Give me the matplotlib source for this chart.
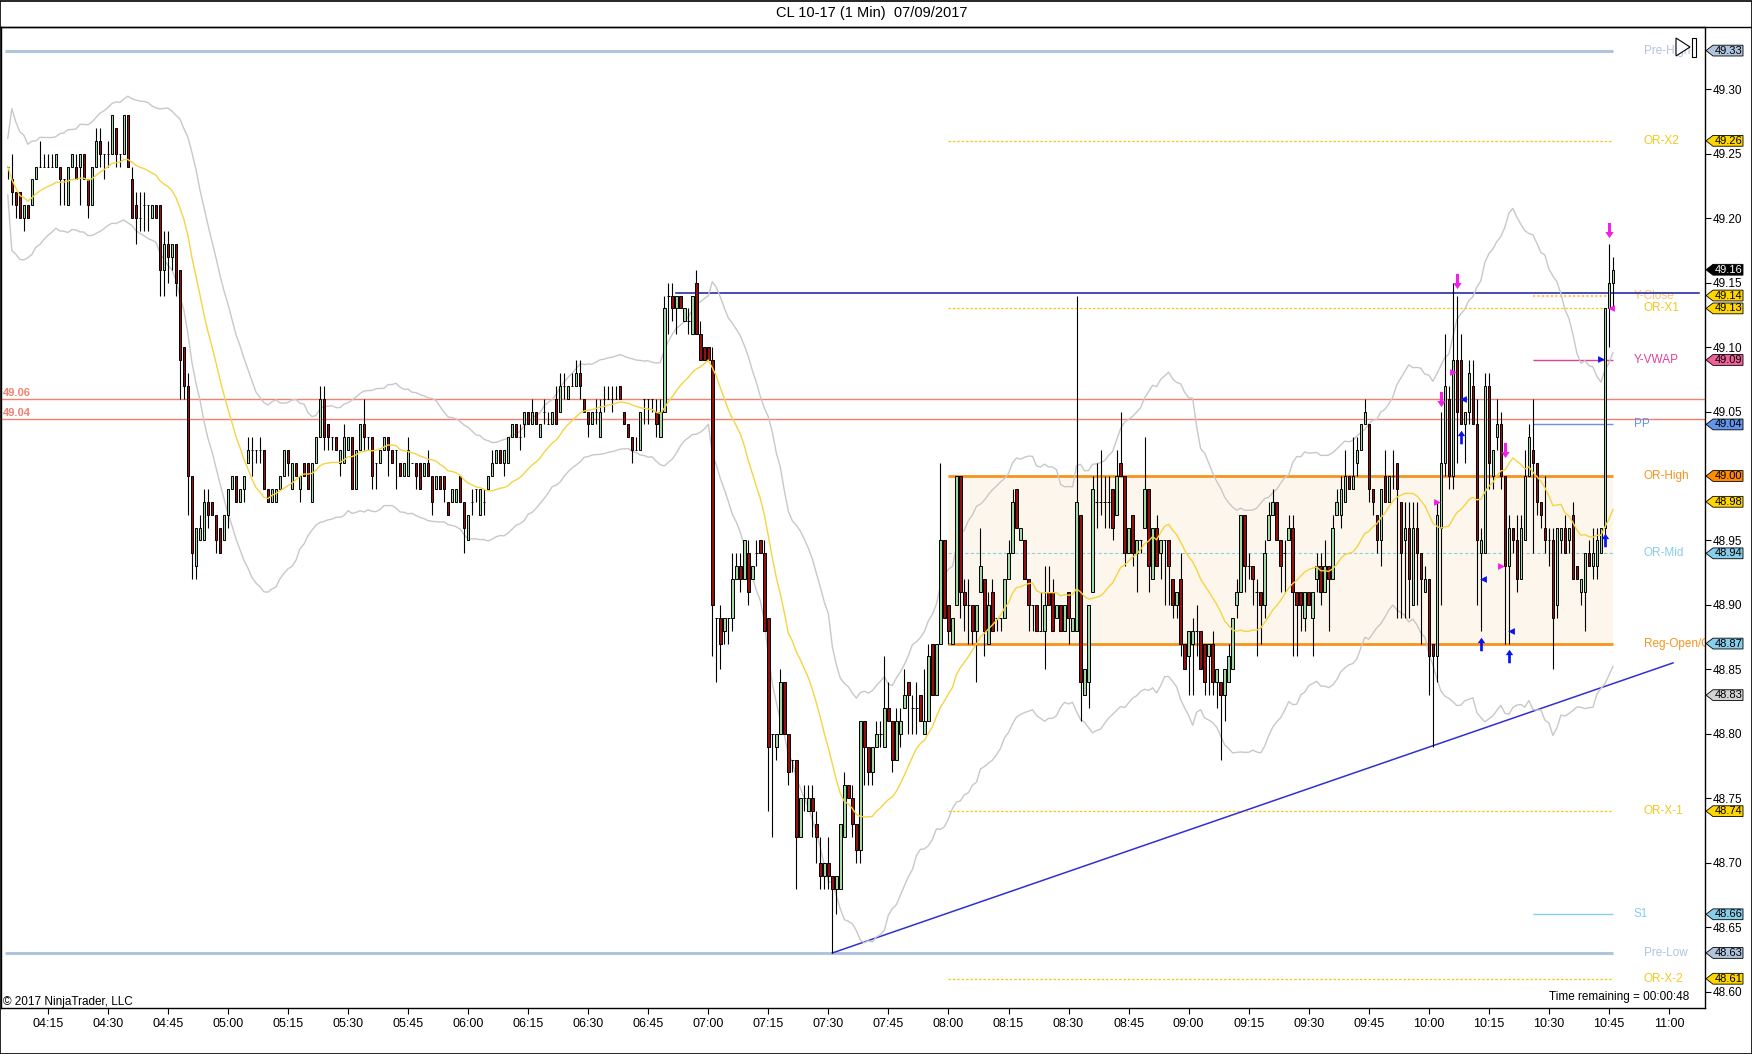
import numpy as np
import pandas as pd
import matplotlib
matplotlib.use('Agg')
import matplotlib.pyplot as plt
import matplotlib.transforms as mtransforms
from matplotlib.path import Path
from matplotlib.patches import Polygon, Rectangle
from matplotlib.lines import Line2D

plt.rcParams['font.family'] = ['Liberation Sans', 'DejaVu Sans']
NARROW = ['Liberation Sans Narrow', 'Liberation Sans', 'DejaVu Sans']

title = 'CL 10-17 (1 Min)  07/09/2017'
first_bar = '04:05'

# 1 minute bars, prices in cents (48.xx / 49.xx)
open_c = [
    4924, 4923, 4922, 4922, 4920, 4921, 4921, 4923, 4924, 4924,
    4924, 4924, 4924, 4924, 4923, 4921, 4924, 4924, 4924, 4925,
    4923, 4921, 4924, 4926, 4925, 4925, 4925, 4927, 4925, 4925,
    4928, 4923, 4921, 4920, 4921, 4921, 4920, 4921, 4921, 4916,
    4918, 4917, 4918, 4916, 4910, 4907, 4900, 4893, 4895, 4895,
    4898, 4898, 4897, 4896, 4895, 4897, 4899, 4900, 4898, 4899,
    4901, 4902, 4902, 4902, 4902, 4899, 4898, 4898, 4899, 4900,
    4902, 4899, 4901, 4899, 4901, 4901, 4898, 4901, 4903, 4906,
    4904, 4903, 4903, 4901, 4901, 4902, 4903, 4899, 4902, 4904,
    4903, 4903, 4901, 4901, 4902, 4903, 4902, 4902, 4901, 4900,
    4900, 4901, 4901, 4901, 4900, 4901, 4900, 4899, 4900, 4900,
    4898, 4898, 4898, 4900, 4898, 4895, 4898, 4899, 4897, 4898,
    4899, 4900, 4901, 4902, 4901, 4901, 4903, 4904, 4903, 4904,
    4905, 4904, 4905, 4903, 4905, 4904, 4904, 4906, 4905, 4907,
    4906, 4907, 4907, 4908, 4906, 4905, 4904, 4905, 4903, 4906,
    4906, 4906, 4906, 4907, 4905, 4904, 4903, 4902, 4902, 4906,
    4906, 4906, 4905, 4903, 4905, 4914, 4914, 4913, 4914, 4912,
    4912, 4911, 4915, 4911, 4910, 4910, 4909, 4889, 4889, 4888,
    4889, 4889, 4892, 4893, 4892, 4894, 4892, 4894, 4895, 4894,
    4889, 4880, 4879, 4880, 4884, 4880, 4878, 4878, 4872, 4875,
    4874, 4875, 4873, 4870, 4869, 4870, 4869, 4868, 4868, 4872,
    4876, 4875, 4873, 4871, 4881, 4879, 4877, 4879, 4880, 4879,
    4882, 4881, 4878, 4880, 4882, 4884, 4882, 4882, 4883, 4880,
    4881, 4887, 4883, 4887, 4895, 4890, 4887, 4890, 4900, 4891,
    4890, 4890, 4888, 4891, 4892, 4887, 4891, 4889, 4889, 4889,
    4892, 4894, 4899, 4895, 4895, 4892, 4890, 4890, 4888, 4888,
    4891, 4891, 4889, 4890, 4888, 4891, 4888, 4888, 4897, 4883,
    4884, 4891, 4898, 4898, 4898, 4898, 4899, 4897, 4901, 4900,
    4894, 4897, 4894, 4895, 4896, 4899, 4892, 4896, 4894, 4895,
    4895, 4892, 4890, 4892, 4887, 4886, 4887, 4888, 4888, 4887,
    4886, 4887, 4884, 4884, 4883, 4884, 4885, 4890, 4891, 4897,
    4893, 4893, 4891, 4891, 4890, 4895, 4897, 4898, 4895, 4894,
    4895, 4896, 4891, 4891, 4889, 4891, 4889, 4892, 4893, 4891,
    4893, 4892, 4897, 4897, 4898, 4900, 4899, 4901, 4902, 4904,
    4904, 4899, 4897, 4895, 4900, 4898, 4900, 4901, 4898, 4895,
    4896, 4890, 4896, 4894, 4891, 4892, 4887, 4886, 4896, 4901,
    4906, 4900, 4909, 4909, 4904, 4905, 4907, 4904, 4894, 4894,
    4907, 4900, 4903, 4904, 4900, 4893, 4896, 4895, 4892, 4895,
    4900, 4902, 4901, 4898, 4896, 4895, 4895, 4890, 4895, 4896,
    4895, 4897, 4893, 4891, 4891, 4894, 4893, 4893, 4894, 4896,
    4913, 4915,
]
high_c = [
    4924, 4925, 4922, 4922, 4921, 4921, 4923, 4924, 4926, 4925,
    4925, 4925, 4925, 4924, 4923, 4924, 4925, 4925, 4925, 4925,
    4923, 4924, 4927, 4927, 4925, 4926, 4928, 4927, 4925, 4928,
    4928, 4924, 4922, 4922, 4922, 4921, 4921, 4921, 4921, 4919,
    4919, 4918, 4918, 4916, 4910, 4908, 4900, 4896, 4897, 4899,
    4899, 4898, 4897, 4896, 4897, 4899, 4900, 4900, 4899, 4900,
    4903, 4903, 4902, 4903, 4902, 4899, 4899, 4899, 4900, 4902,
    4902, 4901, 4901, 4900, 4901, 4901, 4901, 4903, 4907, 4907,
    4904, 4903, 4903, 4902, 4904, 4903, 4903, 4902, 4904, 4906,
    4903, 4903, 4901, 4902, 4903, 4903, 4902, 4902, 4901, 4901,
    4903, 4901, 4901, 4901, 4901, 4902, 4900, 4900, 4900, 4900,
    4898, 4899, 4899, 4900, 4898, 4897, 4899, 4899, 4899, 4899,
    4900, 4902, 4902, 4902, 4902, 4903, 4904, 4904, 4904, 4905,
    4905, 4906, 4905, 4904, 4906, 4905, 4905, 4907, 4908, 4908,
    4907, 4908, 4909, 4909, 4906, 4905, 4905, 4906, 4906, 4907,
    4907, 4907, 4907, 4907, 4905, 4904, 4903, 4903, 4905, 4906,
    4906, 4906, 4906, 4906, 4914, 4915, 4915, 4914, 4914, 4913,
    4913, 4914, 4916, 4912, 4910, 4910, 4910, 4889, 4890, 4889,
    4889, 4894, 4894, 4894, 4895, 4895, 4893, 4895, 4895, 4895,
    4889, 4880, 4880, 4885, 4884, 4880, 4878, 4878, 4875, 4876,
    4876, 4876, 4874, 4872, 4870, 4872, 4869, 4869, 4873, 4877,
    4876, 4876, 4873, 4881, 4881, 4879, 4879, 4881, 4881, 4886,
    4884, 4881, 4882, 4882, 4885, 4884, 4883, 4884, 4883, 4885,
    4887, 4887, 4887, 4901, 4895, 4890, 4889, 4900, 4900, 4892,
    4892, 4890, 4890, 4896, 4892, 4891, 4892, 4889, 4889, 4892,
    4895, 4899, 4899, 4896, 4895, 4892, 4890, 4890, 4891, 4893,
    4893, 4892, 4890, 4890, 4890, 4891, 4889, 4914, 4897, 4885,
    4890, 4900, 4901, 4902, 4900, 4900, 4899, 4902, 4905, 4900,
    4896, 4897, 4895, 4895, 4903, 4899, 4896, 4897, 4895, 4895,
    4895, 4892, 4891, 4894, 4887, 4888, 4889, 4890, 4888, 4887,
    4887, 4888, 4885, 4884, 4885, 4887, 4889, 4892, 4897, 4897,
    4894, 4893, 4892, 4891, 4895, 4898, 4899, 4898, 4895, 4895,
    4897, 4897, 4891, 4891, 4891, 4891, 4891, 4894, 4894, 4895,
    4893, 4897, 4899, 4900, 4902, 4900, 4903, 4903, 4904, 4906,
    4904, 4899, 4897, 4899, 4902, 4900, 4902, 4901, 4898, 4898,
    4898, 4898, 4898, 4894, 4893, 4892, 4887, 4898, 4905, 4911,
    4907, 4915, 4914, 4911, 4905, 4909, 4909, 4906, 4896, 4908,
    4908, 4902, 4906, 4905, 4900, 4897, 4896, 4897, 4897, 4902,
    4904, 4906, 4901, 4898, 4900, 4896, 4896, 4896, 4896, 4897,
    4896, 4898, 4893, 4892, 4894, 4895, 4896, 4896, 4896, 4913,
    4918, 4917,
]
low_c = [
    4923, 4921, 4920, 4920, 4919, 4920, 4921, 4923, 4924, 4924,
    4924, 4924, 4924, 4921, 4921, 4921, 4924, 4923, 4921, 4923,
    4920, 4921, 4924, 4924, 4923, 4924, 4925, 4924, 4924, 4925,
    4924, 4920, 4918, 4919, 4919, 4919, 4920, 4920, 4914, 4914,
    4915, 4916, 4914, 4906, 4906, 4897, 4892, 4892, 4895, 4895,
    4896, 4897, 4894, 4894, 4895, 4896, 4899, 4898, 4898, 4898,
    4901, 4900, 4901, 4901, 4899, 4898, 4898, 4898, 4899, 4900,
    4900, 4899, 4900, 4898, 4900, 4899, 4898, 4901, 4903, 4902,
    4902, 4902, 4902, 4900, 4901, 4902, 4899, 4899, 4902, 4902,
    4902, 4899, 4899, 4901, 4902, 4900, 4901, 4899, 4900, 4900,
    4900, 4901, 4899, 4899, 4900, 4900, 4897, 4899, 4899, 4898,
    4897, 4898, 4898, 4898, 4894, 4895, 4897, 4898, 4897, 4897,
    4899, 4900, 4901, 4901, 4900, 4901, 4903, 4903, 4902, 4903,
    4904, 4904, 4904, 4903, 4904, 4904, 4904, 4904, 4905, 4906,
    4906, 4907, 4907, 4906, 4905, 4903, 4904, 4904, 4903, 4905,
    4906, 4905, 4906, 4906, 4904, 4903, 4901, 4902, 4902, 4904,
    4904, 4905, 4903, 4903, 4905, 4911, 4912, 4911, 4913, 4912,
    4911, 4911, 4911, 4909, 4909, 4909, 4886, 4884, 4885, 4887,
    4887, 4888, 4892, 4891, 4892, 4890, 4892, 4893, 4894, 4888,
    4874, 4872, 4878, 4880, 4880, 4876, 4877, 4868, 4872, 4874,
    4874, 4872, 4870, 4868, 4868, 4868, 4863, 4866, 4868, 4872,
    4875, 4872, 4870, 4870, 4876, 4876, 4876, 4879, 4879, 4879,
    4881, 4877, 4878, 4879, 4882, 4880, 4880, 4880, 4881, 4880,
    4881, 4883, 4883, 4887, 4889, 4887, 4887, 4890, 4889, 4888,
    4887, 4887, 4884, 4891, 4886, 4887, 4888, 4888, 4888, 4889,
    4892, 4894, 4896, 4895, 4892, 4888, 4888, 4888, 4888, 4885,
    4890, 4888, 4889, 4888, 4888, 4887, 4888, 4888, 4881, 4883,
    4882, 4891, 4896, 4897, 4896, 4896, 4895, 4897, 4900, 4893,
    4894, 4893, 4891, 4894, 4896, 4891, 4892, 4893, 4892, 4890,
    4890, 4889, 4889, 4886, 4885, 4883, 4883, 4886, 4885, 4883,
    4883, 4883, 4882, 4878, 4881, 4884, 4885, 4889, 4891, 4891,
    4892, 4890, 4886, 4887, 4889, 4895, 4897, 4895, 4891, 4891,
    4895, 4886, 4886, 4888, 4888, 4890, 4886, 4891, 4890, 4891,
    4888, 4892, 4897, 4896, 4898, 4899, 4899, 4900, 4902, 4904,
    4898, 4897, 4894, 4893, 4898, 4898, 4899, 4889, 4889, 4889,
    4889, 4890, 4890, 4887, 4891, 4883, 4879, 4884, 4890, 4900,
    4899, 4899, 4901, 4904, 4901, 4904, 4904, 4890, 4888, 4894,
    4899, 4899, 4902, 4899, 4887, 4887, 4894, 4891, 4892, 4895,
    4900, 4894, 4897, 4896, 4894, 4893, 4885, 4889, 4894, 4894,
    4894, 4892, 4892, 4890, 4888, 4893, 4892, 4892, 4894, 4895,
    4910, 4913,
]
close_c = [
    4924, 4922, 4921, 4920, 4921, 4920, 4923, 4924, 4924, 4924,
    4924, 4924, 4925, 4923, 4923, 4924, 4925, 4923, 4925, 4923,
    4921, 4924, 4926, 4925, 4925, 4925, 4928, 4925, 4925, 4928,
    4924, 4920, 4920, 4920, 4921, 4921, 4921, 4920, 4916, 4918,
    4917, 4918, 4915, 4909, 4907, 4900, 4894, 4896, 4896, 4898,
    4897, 4897, 4895, 4894, 4897, 4899, 4900, 4898, 4899, 4900,
    4902, 4902, 4902, 4902, 4899, 4898, 4899, 4899, 4900, 4902,
    4901, 4901, 4900, 4900, 4900, 4899, 4901, 4903, 4906, 4903,
    4903, 4903, 4902, 4902, 4903, 4903, 4899, 4902, 4904, 4903,
    4903, 4900, 4901, 4902, 4903, 4902, 4901, 4902, 4900, 4901,
    4902, 4901, 4900, 4899, 4901, 4900, 4898, 4900, 4899, 4899,
    4897, 4899, 4899, 4898, 4896, 4897, 4898, 4899, 4899, 4898,
    4900, 4901, 4902, 4901, 4902, 4903, 4904, 4903, 4903, 4905,
    4904, 4905, 4904, 4904, 4905, 4904, 4905, 4904, 4907, 4907,
    4907, 4907, 4908, 4907, 4905, 4904, 4905, 4905, 4905, 4906,
    4906, 4906, 4906, 4906, 4904, 4903, 4902, 4902, 4905, 4906,
    4906, 4906, 4904, 4905, 4913, 4914, 4913, 4914, 4913, 4913,
    4912, 4914, 4911, 4909, 4909, 4909, 4890, 4889, 4887, 4889,
    4889, 4892, 4893, 4892, 4895, 4891, 4893, 4894, 4894, 4888,
    4879, 4880, 4880, 4884, 4880, 4877, 4878, 4872, 4875, 4875,
    4875, 4874, 4872, 4869, 4870, 4869, 4868, 4869, 4873, 4876,
    4875, 4873, 4871, 4881, 4879, 4877, 4879, 4880, 4880, 4882,
    4881, 4878, 4881, 4881, 4883, 4883, 4882, 4882, 4881, 4881,
    4886, 4883, 4887, 4895, 4889, 4888, 4889, 4900, 4891, 4890,
    4890, 4888, 4890, 4893, 4888, 4890, 4888, 4889, 4889, 4892,
    4894, 4898, 4896, 4896, 4892, 4890, 4890, 4888, 4888, 4890,
    4890, 4888, 4890, 4888, 4890, 4889, 4889, 4898, 4884, 4885,
    4890, 4899, 4898, 4898, 4898, 4898, 4896, 4900, 4900, 4894,
    4896, 4894, 4895, 4895, 4899, 4893, 4896, 4893, 4895, 4895,
    4893, 4890, 4891, 4887, 4885, 4888, 4888, 4888, 4885, 4884,
    4887, 4884, 4885, 4883, 4885, 4886, 4889, 4891, 4897, 4893,
    4893, 4892, 4891, 4890, 4894, 4897, 4898, 4895, 4893, 4894,
    4896, 4891, 4890, 4890, 4891, 4890, 4891, 4893, 4891, 4893,
    4892, 4896, 4898, 4899, 4900, 4899, 4900, 4902, 4904, 4905,
    4899, 4898, 4895, 4899, 4898, 4900, 4900, 4899, 4894, 4896,
    4892, 4896, 4894, 4892, 4892, 4886, 4886, 4897, 4901, 4907,
    4900, 4909, 4905, 4904, 4905, 4908, 4904, 4895, 4895, 4907,
    4901, 4902, 4904, 4900, 4893, 4896, 4895, 4892, 4896, 4900,
    4903, 4901, 4898, 4897, 4895, 4895, 4889, 4896, 4896, 4894,
    4896, 4892, 4892, 4892, 4894, 4893, 4894, 4895, 4896, 4913,
    4915, 4916,
]

tick_labels = ['04:15', '04:30', '04:45', '05:00', '05:15', '05:30', '05:45',
               '06:00', '06:15', '06:30', '06:45', '07:00', '07:15', '07:30',
               '07:45', '08:00', '08:15', '08:30', '08:45', '09:00', '09:15',
               '09:30', '09:45', '10:00', '10:15', '10:30', '10:45', '11:00']

# key levels drawn by the indicators
level_names = ['Pre-High', 'OR-X2', 'Y-Close', 'OR-X1', 'Y-VWAP', 'PP', 'OR-High',
               'OR-Mid', 'Reg-Open/OR-Low', 'OR-X-1', 'S1', 'Pre-Low', 'OR-X-2']
level_prices = [49.33, 49.26, 49.14, 49.13, 49.09, 49.04, 49.00,
                48.94, 48.87, 48.74, 48.66, 48.63, 48.61]
or_start = '08:00'

# user drawn lines
red_lines = [49.06, 49.044]
red_labels = ['49.06', '49.04']
blue_hline = 49.142
blue_hline_from = '06:52'
trend_times = ['07:31', '11:01']
trend_prices = [48.63, 48.855]

# right axis price markers
box_prices = [49.33, 49.26, 49.16, 49.14, 49.13, 49.09, 49.04, 49.00,
              48.98, 48.94, 48.87, 48.83, 48.74, 48.66, 48.63, 48.61]
box_labels = ['49.33', '49.26', '49.16', '49.14', '49.13', '49.09', '49.04', '49.00',
              '48.98', '48.94', '48.87', '48.83', '48.74', '48.66', '48.63', '48.61']

# signal markers
down_times = ['10:03', '10:07', '10:19', '10:45']
down_prices = [49.06, 49.151, 49.02, 49.191]
up_times = ['10:08', '10:13', '10:20', '10:44']
up_prices = [49.03, 48.87, 48.86, 48.95]
pink_r_times = ['10:02', '10:06', '10:18']
pink_r_prices = [48.98, 49.081, 48.93]
pink_l_times = ['10:46']
pink_l_prices = [49.13]
blue_l_times = ['10:09', '10:14', '10:21']
blue_l_prices = [49.06, 48.92, 48.88]
blue_r_times = ['10:43']
blue_r_prices = [49.091]


def to_min(s):
    h, m = s.split(':')
    return int(h) * 60 + int(m)


W, H = 1752, 1054
fig = plt.figure(figsize=(W / 100, H / 100), dpi=100)
ax = fig.add_axes([1 / W, 1 - 1008 / H, 1704 / W, (1008 - 27) / H])

n = len(close_c)
t = to_min(first_bar) + np.arange(n)
o = np.array(open_c) / 100
c = np.array(close_c) / 100
h = np.maximum(np.array(high_c) / 100, np.maximum(o, c))
l = np.minimum(np.array(low_c) / 100, np.minimum(o, c))
last_t = t[-1]

# SMA + range based bands
sma = pd.Series(c).rolling(20, min_periods=1).mean()
rng = pd.Series(h - l).rolling(30, min_periods=1).mean()
upper = sma + 2.2 * rng
lower = sma - 2.2 * rng

x0, x1 = 243.3, 669.0
ax.set_xlim(x0, x1)
ax.set_ylim(48.5873, 49.3483)

# opening range box
t_or = to_min(or_start)
lv = dict(zip(level_names, level_prices))
ax.add_patch(Rectangle((t_or, lv['Reg-Open/OR-Low']), last_t - t_or,
                       lv['OR-High'] - lv['Reg-Open/OR-Low'],
                       facecolor='#fdf6ec', edgecolor='none', zorder=0))

styles = {
    'Pre-High': ('#b0c4de', 2.2, '-', 'pre'),
    'Pre-Low': ('#b0c4de', 2.2, '-', 'pre'),
    'OR-X2': ('#f2c81e', 0.9, (0, (2, 1.5)), 'or'),
    'OR-X1': ('#f2c81e', 0.9, (0, (2, 1.5)), 'or'),
    'OR-X-1': ('#f2c81e', 0.9, (0, (2, 1.5)), 'or'),
    'OR-X-2': ('#f2c81e', 0.9, (0, (2, 1.5)), 'or'),
    'OR-High': ('#f7941d', 2.0, '-', 'or'),
    'Reg-Open/OR-Low': ('#f7941d', 2.0, '-', 'or'),
    'OR-Mid': ('#87ceeb', 0.8, (0, (3, 2)), 'or'),
    'Y-Close': ('#ffc46b', 1.6, (0, (1, 1)), 'piv'),
    'Y-VWAP': ('#e0409a', 1.0, '-', 'piv'),
    'PP': ('#6495ed', 1.0, '-', 'piv'),
    'S1': ('#87ceeb', 1.0, '-', 'piv'),
}
text_colors = {
    'Pre-High': '#b0c4de', 'Pre-Low': '#b0c4de',
    'OR-X2': '#f2c81e', 'OR-X1': '#f2c81e', 'OR-X-1': '#f2c81e', 'OR-X-2': '#f2c81e',
    'OR-High': '#f7941d', 'Reg-Open/OR-Low': '#f7941d', 'OR-Mid': '#87ceeb',
    'Y-Close': '#ffc46b', 'Y-VWAP': '#e0409a', 'PP': '#6495ed', 'S1': '#87ceeb',
}
for name, price in zip(level_names, level_prices):
    col, lw, ls, kind = styles[name]
    if kind == 'pre':
        xs, lx = t[0] - 0.7, last_t + 7.7
    elif kind == 'or':
        xs, lx = t_or, last_t + 7.7
    else:
        xs, lx = last_t - 20, last_t + 5.2
    ax.plot([xs, last_t], [price, price], color=col, lw=lw, ls=ls, zorder=1,
            solid_capstyle='butt')
    ax.text(lx, price, name, color=text_colors[name], fontsize=8.5,
            va='center', ha='left', zorder=2, clip_on=True)

# red horizontal lines
for price, lab in zip(red_lines, red_labels):
    ax.axhline(price, color='#f08070', lw=1.0, zorder=1)
    ax.text(x0 + 0.4, price + 0.0007, lab, color='#f08070', fontsize=8,
            fontweight='bold', va='bottom', ha='left', zorder=2)

# blue drawn lines
ax.plot([to_min(blue_hline_from), x1 - 1.4], [blue_hline, blue_hline],
        color='#1a1aa8', lw=1.1, zorder=2)
ax.plot([to_min(s) for s in trend_times], trend_prices, color='#3030d0', lw=1.1, zorder=2)

# bands and average
ax.plot(t, upper, color='#c8c8c8', lw=1.0, zorder=2)
ax.plot(t, lower, color='#c8c8c8', lw=1.0, zorder=2)
ax.plot(t, sma, color='#f5d442', lw=1.0, zorder=5)

# candles
up = c >= o
ax.vlines(t, l, h, color='black', lw=0.8, zorder=3)
ax.bar(t, np.abs(c - o), bottom=np.minimum(o, c), width=0.62,
       color=np.where(up, '#a2d6a2', '#960f0f'), edgecolor='black',
       linewidth=0.7, zorder=4)

# signal markers
up_arrow = Path([(0, 1), (0.55, 0.2), (0.2, 0.2), (0.2, -1), (-0.2, -1),
                 (-0.2, 0.2), (-0.55, 0.2), (0, 1)])
down_arrow = Path([(x, -y) for x, y in up_arrow.vertices])
ax.scatter([to_min(s) for s in down_times], down_prices, marker=down_arrow,
           s=120, color='#f020e8', zorder=6, linewidths=0)
ax.scatter([to_min(s) for s in up_times], up_prices, marker=up_arrow,
           s=95, color='#0a14f0', zorder=6, linewidths=0)
ax.scatter([to_min(s) for s in pink_r_times], pink_r_prices, marker='>',
           s=24, color='#f020e8', zorder=6, linewidths=0)
ax.scatter([to_min(s) - 0.4 for s in pink_l_times], pink_l_prices, marker='<',
           s=24, color='#f020e8', zorder=6, linewidths=0)
ax.scatter([to_min(s) - 0.45 for s in blue_l_times], blue_l_prices, marker='<',
           s=24, color='#0a14f0', zorder=6, linewidths=0)
ax.scatter([to_min(s) + 0.1 for s in blue_r_times], blue_r_prices, marker='>',
           s=24, color='#0a14f0', zorder=6, linewidths=0)

# axes styling
ax.set_xticks([to_min(s) for s in tick_labels])
ax.set_xticklabels(tick_labels, family=NARROW, fontsize=9)
ax.tick_params(axis='x', length=4, width=0.8, pad=3, colors='black')
ax.yaxis.tick_right()
yt = np.round(np.arange(48.60, 49.301, 0.05), 2)
ax.set_yticks(yt)
ax.set_yticklabels(['%.2f' % v for v in yt], fontsize=8.5)
ax.tick_params(axis='y', length=4, width=0.8, pad=1.5)
for sp in ax.spines.values():
    sp.set_linewidth(1.0)

# right axis price boxes
box_fc = ['#b0c4de', '#ffd700', '#000000', '#ffd700', '#ffd700', '#f0609a',
          '#6495ed', '#ff8c00', '#ffd700', '#87ceeb', '#87ceeb', '#d3d3d3',
          '#ffd700', '#87ceeb', '#b0c4de', '#ffd700']
trans = mtransforms.blended_transform_factory(fig.transFigure, ax.transData)
hh = 5.4 * 0.01 / 12.89
for price, lab, fc in zip(box_prices, box_labels, box_fc):
    verts = [(1706 / W, price), (1713 / W, price + hh), (1743 / W, price + hh),
             (1743 / W, price - hh), (1713 / W, price - hh)]
    ax.add_patch(Polygon(verts, closed=True, transform=trans, facecolor=fc,
                         edgecolor='black', lw=0.6, clip_on=False, zorder=10))
    ax.text(1728.5 / W, price, lab, transform=trans, ha='center', va='center',
            fontsize=8, color='white' if fc == '#000000' else 'black',
            clip_on=False, zorder=11)


# frame, title and small texts
def px(x, y):
    return x / W, 1 - y / H


fig.add_artist(Rectangle((0, 0), 1 - 0.5 / W, 1 - 0.5 / H, transform=fig.transFigure,
                         fill=False, edgecolor='black', lw=1.2))
fig.add_artist(Line2D([0, 1], [1 - 27 / H] * 2, color='black', lw=1.0))
fig.text(*px(872, 13.5), title, ha='center', va='center', fontsize=10.5)
fig.add_artist(Polygon([px(1676, 38), px(1676, 56), px(1690, 47)], closed=True,
                       facecolor='white', edgecolor='black', lw=0.8))
fig.add_artist(Rectangle(px(1692, 57), 3.5 / W, 19 / H, facecolor='white',
                         edgecolor='black', lw=0.8))
fig.text(*px(3, 1002), '\u00a9 2017 NinjaTrader, LLC', ha='left', va='center',
         fontsize=8.5, family=NARROW)
fig.text(*px(1689, 997), 'Time remaining = 00:00:48', ha='right', va='center',
         fontsize=8.5, family=NARROW)

fig.savefig('out.png', dpi=100)
